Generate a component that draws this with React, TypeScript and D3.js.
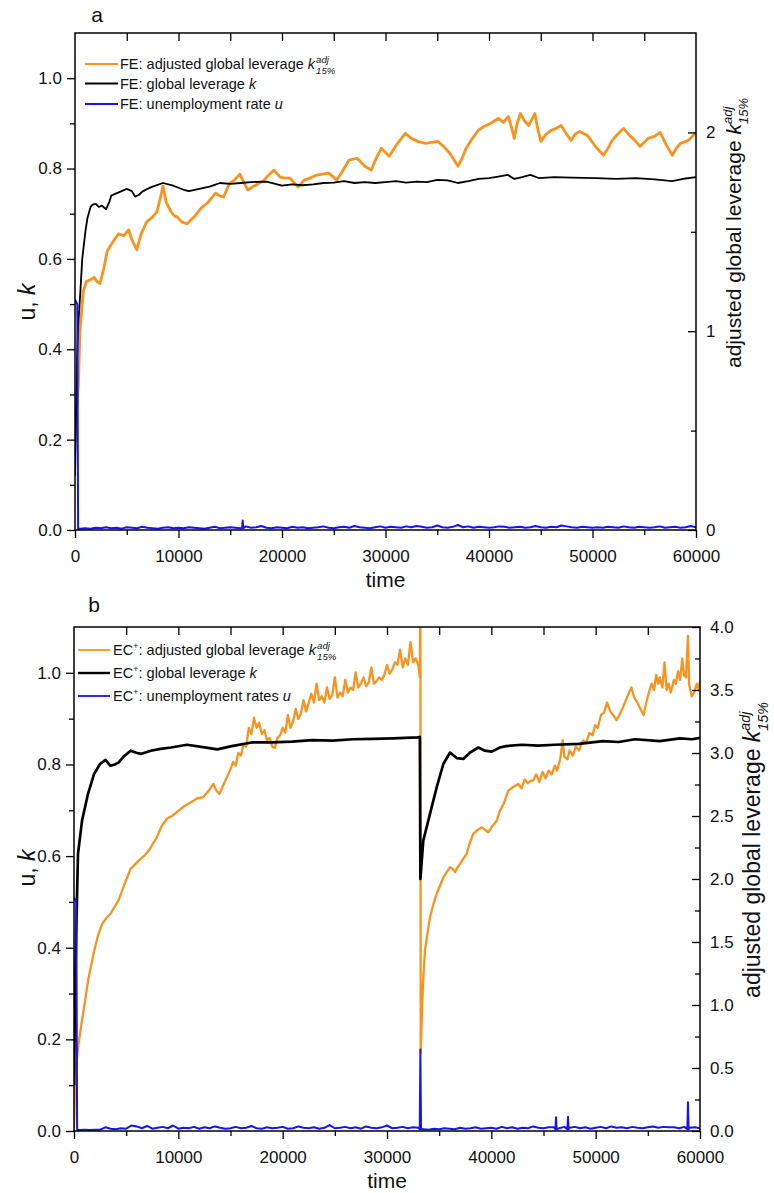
import React, { useEffect, useRef } from 'react';
import * as d3 from 'd3';

type Pt = [number, number];

// ---------- Panel a: FE run ----------
// global leverage k (left axis)
const FE_K: Pt[] = [
  [0, 0.12], [200, 0.38], [300, 0.45], [500, 0.52], [700, 0.6], [1000, 0.66], [1200, 0.69], [1500, 0.715],
  [1700, 0.72], [2000, 0.722], [2300, 0.715], [2600, 0.718], [3000, 0.71], [3300, 0.725], [3500, 0.74],
  [4000, 0.745], [4500, 0.75], [5000, 0.755], [5500, 0.75], [5800, 0.738], [6200, 0.742], [6500, 0.749],
  [7000, 0.755], [7500, 0.76], [8500, 0.768], [9500, 0.762], [10500, 0.753], [11000, 0.75], [12000, 0.755],
  [13000, 0.76], [13500, 0.764], [14000, 0.768], [15000, 0.766], [16000, 0.768], [17000, 0.77], [18500, 0.771],
  [20000, 0.762], [21000, 0.765], [22000, 0.763], [23000, 0.765], [24000, 0.768], [25000, 0.769], [26000, 0.772],
  [27000, 0.768], [28000, 0.77], [29000, 0.768], [30000, 0.77], [31000, 0.772], [32000, 0.769], [33000, 0.771],
  [34000, 0.77], [35000, 0.775], [36000, 0.774], [37000, 0.768], [38000, 0.772], [39000, 0.777], [40000, 0.779],
  [40900, 0.782], [41800, 0.786], [42450, 0.777], [43200, 0.781], [44000, 0.786], [44800, 0.779], [46300, 0.781],
  [48000, 0.78], [50300, 0.779], [52300, 0.777], [54200, 0.779], [56000, 0.776], [57700, 0.772], [59000, 0.778],
  [60000, 0.781],
];

// adjusted global leverage k_adj (right axis)
const FE_KADJ: Pt[] = [
  [0, 0.42], [150, 0.6], [320, 0.73], [480, 1.0], [800, 1.2], [1100, 1.25], [1500, 1.26], [1860, 1.27],
  [2100, 1.25], [2420, 1.24], [2800, 1.32], [3100, 1.4], [3420, 1.43], [3800, 1.46], [4210, 1.49], [4700, 1.48],
  [5180, 1.51], [5500, 1.46], [5960, 1.41], [6400, 1.49], [6930, 1.55], [7400, 1.57], [7910, 1.6], [8200, 1.66],
  [8510, 1.73], [8800, 1.65], [9280, 1.6], [9600, 1.58], [9860, 1.575], [10300, 1.55], [10830, 1.54],
  [11200, 1.56], [11600, 1.58], [12200, 1.62], [12790, 1.645], [13200, 1.67], [13580, 1.695], [14000, 1.68],
  [14360, 1.675], [14940, 1.745], [15400, 1.76], [15920, 1.79], [16300, 1.75], [16700, 1.71], [17100, 1.725],
  [17480, 1.735], [18270, 1.76], [18800, 1.79], [19240, 1.81], [19820, 1.775], [20300, 1.77], [20790, 1.77],
  [21200, 1.745], [21560, 1.725], [22140, 1.76], [22700, 1.77], [23310, 1.785], [23900, 1.79], [24510, 1.795],
  [25300, 1.76], [25900, 1.81], [26470, 1.86], [27250, 1.87], [28020, 1.83], [28620, 1.81], [29100, 1.87],
  [29590, 1.92], [30360, 1.88], [31100, 1.94], [31910, 1.995], [32500, 1.97], [33100, 1.955], [33880, 1.945],
  [35050, 1.955], [35600, 1.93], [36220, 1.895], [37010, 1.83], [37400, 1.87], [37790, 1.92], [38400, 1.97],
  [38970, 2.01], [39500, 2.03], [40130, 2.045], [40900, 2.07], [41400, 2.05], [41870, 2.08], [42200, 2.02],
  [42450, 1.97], [42700, 2.04], [43030, 2.095], [43400, 2.06], [43840, 2.035], [44430, 2.095], [44700, 2.02],
  [45010, 1.955], [45500, 1.99], [45990, 2.01], [46500, 2.02], [46970, 2.035], [47500, 1.99], [47940, 1.96],
  [48300, 1.99], [48740, 2.005], [49510, 1.985], [50280, 1.93], [51060, 1.885], [51500, 1.92], [51840, 1.955],
  [52400, 1.99], [53000, 2.02], [53570, 1.985], [54100, 1.96], [54590, 1.93], [55000, 1.95], [55360, 1.97],
  [56000, 1.98], [56540, 2.0], [57100, 1.94], [57710, 1.885], [58100, 1.92], [58500, 1.945], [59270, 1.96],
  [60000, 2.0],
];

// unemployment rate u: initial drop, then samples every 500 steps (x 1e-3), plus isolated spikes
const FE_U_HEAD: Pt[] = [[0, 0.51], [220, 0.5], [300, 0.002]];
const FE_U_BAND: number[] = [
  3, 4, 3, 5, 4, 6, 4, 5, 3, 6,
  5, 4, 7, 5, 4, 3, 5, 6, 4, 5,
  4, 6, 5, 4, 3, 5, 7, 4, 5, 6,
  5, 4, 8, 5, 6, 9, 5, 4, 6, 5,
  4, 7, 5, 6, 4, 5, 6, 8, 5, 4,
  6, 7, 5, 9, 6, 5, 4, 6, 8, 5,
  7, 6, 5, 8, 6, 9, 7, 5, 6, 10,
  6, 5, 7, 11, 6, 8, 5, 7, 6, 5,
  6, 8, 7, 5, 6, 7, 5, 6, 9, 6,
  5, 7, 6, 10, 8, 6, 5, 7, 6, 5,
  6, 5, 7, 6, 5, 8, 6, 5, 7, 6,
  5, 6, 8, 5, 6, 7, 5, 6, 9, 6,
];
const FE_U_SPIKES: Pt[] = [[16200, 0.021]];

// ---------- Panel b: EC+ run (restart near t = 33200) ----------
const EC_K: Pt[] = [
  [0, 0.1], [100, 0.3], [200, 0.42], [383, 0.605], [767, 0.677], [1342, 0.736], [1917, 0.779], [2492, 0.801],
  [3019, 0.81], [3489, 0.797], [3900, 0.8], [4265, 0.804], [4800, 0.818], [5425, 0.83], [5900, 0.826],
  [6393, 0.823], [7361, 0.83], [8300, 0.834], [9297, 0.837], [10830, 0.843], [12365, 0.838], [13745, 0.833],
  [15106, 0.84], [17033, 0.848], [18978, 0.848], [20895, 0.85], [22812, 0.853], [24800, 0.852], [26713, 0.855],
  [28600, 0.856], [30576, 0.857], [32905, 0.859], [33150, 0.86], [33200, 0.55], [33300, 0.58], [33480, 0.634],
  [34120, 0.692], [34760, 0.75], [35400, 0.801], [36040, 0.826], [36680, 0.814], [37310, 0.812], [37960, 0.826],
  [38750, 0.837], [39390, 0.83], [40040, 0.828], [40830, 0.837], [41410, 0.84], [42940, 0.843], [44500, 0.841],
  [46080, 0.843], [48390, 0.845], [50700, 0.851], [52200, 0.849], [53770, 0.855], [56140, 0.851], [58080, 0.857],
  [59240, 0.855], [60000, 0.858],
];

const EC_KADJ: Pt[] = [
  [0, 0.02], [100, 0.3], [192, 0.51], [450, 0.7], [767, 0.88], [1000, 1.0], [1361, 1.2], [1936, 1.43],
  [2300, 1.55], [2713, 1.645], [3100, 1.69], [3489, 1.724], [3900, 1.78], [4265, 1.83], [4800, 1.95],
  [5425, 2.08], [5900, 2.12], [6393, 2.16], [6800, 2.19], [7170, 2.226], [7500, 2.27], [7936, 2.33],
  [8400, 2.42], [8914, 2.48], [9400, 2.5], [10064, 2.545], [10600, 2.58], [11214, 2.61], [11800, 2.64],
  [12394, 2.65], [12900, 2.7], [13362, 2.755], [13650, 2.7], [13937, 2.675], [14500, 2.78],
  [15000, 2.87], [15250, 2.93], [15500, 2.9], [15750, 3.0], [16000, 2.98], [16250, 3.07], [16500, 3.05],
  [16750, 3.2], [17000, 3.15], [17250, 3.28], [17500, 3.2], [17750, 3.24], [18000, 3.15], [18250, 3.18],
  [18500, 3.1], [18750, 3.12], [19000, 3.05], [19250, 3.04], [19500, 3.12], [19750, 3.14], [20000, 3.2],
  [20250, 3.16], [20500, 3.3], [20750, 3.2], [21000, 3.25], [21250, 3.35], [21500, 3.27], [21750, 3.31],
  [22000, 3.42], [22250, 3.33], [22500, 3.4], [22750, 3.47], [23000, 3.4], [23250, 3.55], [23500, 3.42],
  [23750, 3.45], [24000, 3.4], [24250, 3.52], [24500, 3.43], [24750, 3.46], [25000, 3.6], [25250, 3.44],
  [25500, 3.48], [25750, 3.45], [26000, 3.58], [26250, 3.48], [26500, 3.52], [26750, 3.5], [27000, 3.64],
  [27250, 3.52], [27500, 3.55], [27750, 3.6], [28000, 3.53], [28250, 3.56], [28500, 3.68], [28750, 3.55],
  [29000, 3.57], [29250, 3.6], [29500, 3.58], [29750, 3.62], [30000, 3.7], [30250, 3.63], [30500, 3.66],
  [30750, 3.72], [31000, 3.7], [31250, 3.82], [31500, 3.68], [31750, 3.75], [32000, 3.7], [32250, 3.88],
  [32500, 3.72], [32750, 3.75], [33000, 3.7], [33150, 3.6],
  [33200, 4.4], [33230, 0.62],
  [33330, 0.9], [33450, 1.17], [33640, 1.434], [33900, 1.58], [34120, 1.697], [34450, 1.8], [34765, 1.883],
  [35100, 1.95], [35400, 2.014], [35700, 2.05], [36040, 2.094], [36300, 2.08], [36520, 2.054], [36750, 2.09],
  [37000, 2.12], [37300, 2.16], [37640, 2.2], [37950, 2.29], [38270, 2.358], [38700, 2.39], [39080, 2.41],
  [39400, 2.39], [39710, 2.371], [40100, 2.42], [40520, 2.463], [40830, 2.543], [41200, 2.6], [41620, 2.701],
  [42100, 2.73], [42590, 2.754], [42900, 2.72], [43200, 2.79], [43500, 2.76], [43750, 2.78],
  [44000, 2.78], [44300, 2.83], [44600, 2.77], [44910, 2.85], [45200, 2.8], [45500, 2.86], [45800, 2.83],
  [46080, 2.9], [46300, 2.86], [46600, 2.95], [46840, 3.1], [47000, 2.97], [47300, 2.95], [47500, 3.02],
  [47810, 2.98], [48100, 3.05], [48400, 3.02], [48790, 3.1], [49100, 3.08], [49400, 3.16], [49700, 3.14],
  [49940, 3.22], [50200, 3.2], [50500, 3.3], [50800, 3.32], [51090, 3.4], [51400, 3.33], [51700, 3.3],
  [52000, 3.26], [52270, 3.3], [52600, 3.36], [52900, 3.42], [53200, 3.48], [53430, 3.52], [53700, 3.44],
  [54000, 3.4], [54300, 3.35], [54590, 3.3], [54800, 3.38], [55000, 3.45], [55360, 3.55], [55600, 3.5],
  [55800, 3.62], [56000, 3.55], [56140, 3.6], [56400, 3.52], [56600, 3.72], [56800, 3.5], [57000, 3.55],
  [57200, 3.48], [57500, 3.58], [57680, 3.55], [57900, 3.65], [58100, 3.58], [58300, 3.75], [58460, 3.62],
  [58650, 3.6], [58850, 3.93], [58950, 3.55], [59200, 3.45], [59430, 3.48], [59700, 3.55], [59850, 3.5],
  [60000, 3.57],
];

const EC_U_HEAD: Pt[] = [[0, 0.51], [220, 0.5], [300, 0.002]];
// samples every 500 steps from t = 500 up to the restart (x 1e-3)
const EC_U_BAND_1: number[] = [
  2, 3, 2, 3, 3, 8, 5, 4, 6, 5,
  12, 10, 6, 11, 5, 7, 9, 6, 12, 5,
  7, 6, 9, 5, 8, 6, 10, 7, 5, 6,
  9, 6, 7, 11, 6, 5, 8, 6, 7, 9,
  5, 6, 10, 7, 6, 8, 5, 7, 13, 6,
  7, 9, 6, 8, 5, 10, 7, 6, 8, 12,
  6, 7, 9, 6, 8, 7,
];
// samples every 500 steps from t = 33500 (x 1e-3)
const EC_U_BAND_2: number[] = [
  4, 3, 5, 4, 6, 5, 4, 7, 5, 6,
  8, 5, 6, 7, 5, 9, 6, 8, 5, 7,
  6, 10, 7, 6, 8, 8, 6, 9, 7, 9,
  6, 8, 5, 7, 9, 6, 10, 7, 8, 6,
  9, 7, 6, 8, 10, 7, 9, 8, 8, 6,
  9, 7, 8, 6,
];
const EC_U_SPIKES: Pt[] = [[33200, 0.178], [46200, 0.03], [47350, 0.031], [58850, 0.063]];

// ---------- styling ----------
const FONT = '"Liberation Sans", Arial, Helvetica, sans-serif';
const ORANGE = '#F7931E';
const BLUE = '#1414F5';

function buildU(head: Pt[], bands: { start: number; values: number[] }[], spikes: Pt[]): Pt[] {
  const pts: Pt[] = [...head];
  bands.forEach((b) => b.values.forEach((v, i) => pts.push([b.start + 500 * i, v / 1000])));
  spikes.forEach(([t, v]) => {
    pts.push([t - 60, 0.004], [t, v], [t + 60, 0.004]);
  });
  return pts.sort((p, q) => p[0] - q[0]);
}

interface PanelCfg {
  key: string;
  letter: string;
  letterX: number;
  letterY: number;
  x0: number;
  x1: number;
  top: number;
  bottom: number;
  rightMax: number;
  rightMajor: number[];
  rightMinor: number[];
  rightFmt: (n: number) => string;
  k: Pt[];
  kadj: Pt[];
  u: Pt[];
  widths: { k: number; kadj: number; u: number };
  legend: { y: number[]; lx0: number; lx1: number; tx: number; size: number; prefix: string; plus: boolean; uText: string };
  leftTitle: [number, number];
  rightTitle: [number, number];
  rightTitleSize: number;
}

const PANELS: PanelCfg[] = [
  {
    key: 'a', letter: 'a', letterX: 97, letterY: 22,
    x0: 75, x1: 696, top: 33, bottom: 530,
    rightMax: 2.5, rightMajor: [0, 1, 2], rightMinor: [0.5, 1.5], rightFmt: d3.format('d'),
    k: FE_K, kadj: FE_KADJ,
    u: buildU(FE_U_HEAD, [{ start: 500, values: FE_U_BAND }], FE_U_SPIKES),
    widths: { k: 1.8, kadj: 2.8, u: 2 },
    legend: { y: [64, 83.5, 104], lx0: 85, lx1: 118, tx: 120, size: 14.5, prefix: 'FE', plus: false, uText: 'unemployment rate ' },
    leftTitle: [27, 302], rightTitle: [734, 233], rightTitleSize: 21,
  },
  {
    key: 'b', letter: 'b', letterX: 94, letterY: 612,
    x0: 74, x1: 700, top: 627, bottom: 1131,
    rightMax: 4, rightMajor: d3.range(0, 4.01, 0.5), rightMinor: d3.range(0.25, 4, 0.5), rightFmt: d3.format('.1f'),
    k: EC_K, kadj: EC_KADJ,
    u: buildU(EC_U_HEAD, [{ start: 500, values: EC_U_BAND_1 }, { start: 33500, values: EC_U_BAND_2 }], EC_U_SPIKES),
    widths: { k: 2.7, kadj: 2.3, u: 2 },
    legend: { y: [650, 673, 696], lx0: 78, lx1: 110, tx: 113, size: 14.6, prefix: 'EC', plus: true, uText: 'unemployment rates ' },
    leftTitle: [27, 868], rightTitle: [752, 850], rightTitleSize: 23,
  },
];

function drawPanel(svg: d3.Selection<SVGSVGElement, unknown, null, undefined>, p: PanelCfg) {
  const x = d3.scaleLinear().domain([0, 60000]).range([p.x0, p.x1]);
  const yL = d3.scaleLinear().domain([0, 1.1]).range([p.bottom, p.top]);
  const yR = d3.scaleLinear().domain([0, p.rightMax]).range([p.bottom, p.top]);

  const g = svg.append('g').attr('class', `panel-${p.key}`);
  const clipId = `clip-${p.key}`;
  svg.append('defs').append('clipPath').attr('id', clipId)
    .append('rect').attr('x', p.x0).attr('y', p.top).attr('width', p.x1 - p.x0).attr('height', p.bottom - p.top);

  const lines = g.append('g').attr('clip-path', `url(#${clipId})`).attr('fill', 'none')
    .attr('stroke-linejoin', 'round');
  const lineL = d3.line<Pt>().x((d) => x(d[0])).y((d) => yL(d[1]));
  const lineR = d3.line<Pt>().x((d) => x(d[0])).y((d) => yR(d[1]));
  lines.append('path').attr('d', lineR(p.kadj)).attr('stroke', ORANGE).attr('stroke-width', p.widths.kadj);
  lines.append('path').attr('d', lineL(p.k)).attr('stroke', '#000').attr('stroke-width', p.widths.k);
  lines.append('path').attr('d', lineL(p.u)).attr('stroke', BLUE).attr('stroke-width', p.widths.u);

  const axisStyle = (sel: d3.Selection<SVGGElement, unknown, null, undefined>) => {
    sel.select('.domain').remove();
    sel.selectAll('line').attr('stroke', '#000').attr('stroke-width', 1.3);
    sel.selectAll('text').attr('font-family', FONT).attr('font-size', 17).attr('fill', '#111');
  };
  const xMajor = d3.range(0, 60001, 10000);
  const xMinor = d3.range(5000, 60000, 10000);

  // bottom axis
  g.append('g').attr('transform', `translate(0,${p.bottom})`)
    .call(d3.axisBottom(x).tickValues(xMajor).tickSize(8).tickPadding(12).tickFormat((d) => String(d)))
    .call(axisStyle);
  g.append('g').attr('transform', `translate(0,${p.bottom})`)
    .call(d3.axisBottom(x).tickValues(xMinor).tickSize(5).tickFormat(() => ''))
    .call(axisStyle);
  // top axis (inward ticks)
  g.append('g').attr('transform', `translate(0,${p.top})`)
    .call(d3.axisTop(x).tickValues(d3.range(5000, 60000, 5000)).tickSize(-8).tickFormat(() => ''))
    .call(axisStyle);
  // left axis
  g.append('g').attr('transform', `translate(${p.x0},0)`)
    .call(d3.axisLeft(yL).tickValues(d3.range(0, 1.01, 0.2)).tickSize(8).tickPadding(5).tickFormat(d3.format('.1f')))
    .call(axisStyle);
  g.append('g').attr('transform', `translate(${p.x0},0)`)
    .call(d3.axisLeft(yL).tickValues(d3.range(0.1, 1.1, 0.2)).tickSize(5).tickFormat(() => ''))
    .call(axisStyle);
  // right axis (inward ticks)
  g.append('g').attr('transform', `translate(${p.x1},0)`)
    .call(d3.axisRight(yR).tickValues(p.rightMajor).tickSize(-8).tickPadding(10).tickFormat((d) => p.rightFmt(d as number)))
    .call(axisStyle);
  g.append('g').attr('transform', `translate(${p.x1},0)`)
    .call(d3.axisRight(yR).tickValues(p.rightMinor).tickSize(-5).tickFormat(() => ''))
    .call(axisStyle);

  // frame
  g.append('rect').attr('x', p.x0).attr('y', p.top).attr('width', p.x1 - p.x0).attr('height', p.bottom - p.top)
    .attr('fill', 'none').attr('stroke', '#000').attr('stroke-width', 1.5);

  // panel letter
  g.append('text').attr('x', p.letterX).attr('y', p.letterY).attr('text-anchor', 'middle')
    .attr('font-family', FONT).attr('font-size', 21).attr('fill', '#111').text(p.letter);

  // x title
  g.append('text').attr('x', (p.x0 + p.x1) / 2).attr('y', p.bottom + 57).attr('text-anchor', 'middle')
    .attr('font-family', FONT).attr('font-size', 21).attr('fill', '#111').text('time');

  // left title "u, k"
  const lt = g.append('text').attr('transform', `translate(${p.leftTitle[0]},${p.leftTitle[1]}) rotate(-90)`)
    .attr('text-anchor', 'middle').attr('dy', '0.35em')
    .attr('font-family', FONT).attr('font-size', 23).attr('fill', '#111');
  lt.append('tspan').text('u, ');
  lt.append('tspan').attr('font-style', 'italic').text('k');

  // right title with stacked super/subscript
  const rs = p.rightTitleSize;
  const ss = rs * 0.62;
  const rt = g.append('text').attr('transform', `translate(${p.rightTitle[0]},${p.rightTitle[1]}) rotate(-90)`)
    .attr('text-anchor', 'middle').attr('dy', '0.35em')
    .attr('font-family', FONT).attr('font-size', rs).attr('fill', '#111');
  rt.append('tspan').text('adjusted global leverage ');
  rt.append('tspan').attr('font-style', 'italic').text('k');
  rt.append('tspan').attr('font-style', 'italic').attr('font-size', ss).attr('dy', -rs * 0.43).text('adj');
  rt.append('tspan').attr('font-style', 'italic').attr('font-size', ss).attr('dx', -ss * 1.334).attr('dy', rs * 0.76).text('15%');

  // legend
  const L = p.legend;
  const entries = [
    { color: ORANGE, main: 'adjusted global leverage ', it: 'k', adj: true },
    { color: '#000', main: 'global leverage ', it: 'k', adj: false },
    { color: BLUE, main: L.uText, it: 'u', adj: false },
  ];
  const leg = g.append('g');
  entries.forEach((e, i) => {
    const y = L.y[i];
    leg.append('line').attr('x1', L.lx0).attr('x2', L.lx1).attr('y1', y).attr('y2', y)
      .attr('stroke', e.color).attr('stroke-width', p.key === 'b' && i === 1 ? 2.4 : 1.8);
    const t = leg.append('text').attr('x', L.tx).attr('y', y + L.size * 0.36)
      .attr('font-family', FONT).attr('font-size', L.size).attr('fill', '#111');
    t.append('tspan').text(L.prefix);
    if (L.plus) {
      t.append('tspan').attr('font-size', L.size * 0.6).attr('dy', -L.size * 0.42).text('+');
      t.append('tspan').attr('dy', L.size * 0.42).text(': ' + e.main);
    } else {
      t.append('tspan').text(': ' + e.main);
    }
    t.append('tspan').attr('font-style', 'italic').text(e.it);
    if (e.adj) {
      const s = L.size * 0.66;
      t.append('tspan').attr('font-style', 'italic').attr('font-size', s).attr('dx', 1).attr('dy', -L.size * 0.45).text('adj');
      t.append('tspan').attr('font-style', 'italic').attr('font-size', s).attr('dx', -s * 1.334).attr('dy', L.size * 0.8).text('15%');
    }
  });
}

export default function App() {
  const ref = useRef<SVGSVGElement>(null);
  useEffect(() => {
    if (!ref.current) return;
    const svg = d3.select(ref.current);
    svg.selectAll('*').remove();
    PANELS.forEach((p) => drawPanel(svg, p));
  }, []);
  return (
    <svg
      ref={ref}
      width={774}
      height={1193}
      viewBox="0 0 774 1193"
      style={{ position: 'absolute', left: 0, top: 0, background: '#fff' }}
    />
  );
}
